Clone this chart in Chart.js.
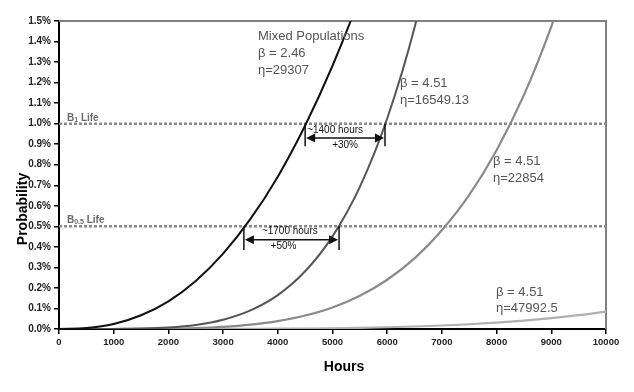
<!DOCTYPE html>
<html><head><meta charset="utf-8">
<script src="https://cdn.jsdelivr.net/npm/chart.js@4/dist/chart.umd.min.js"></script>
<style>html,body{margin:0;padding:0;background:#fff}#wrap{width:634px;height:392px}</style>
</head><body><div id="wrap"><canvas id="c" width="634" height="392"></canvas></div>
<script>
// ---- data (probability in %) ----
const hours = [0,500,1000,1500,2000,2500,3000,3500,4000,4500,5000,5500,6000,6500,7000,7500,8000,8500,9000,9500,10000];
const mixedPop   = [0,0.0045,0.0246,0.067,0.135,0.234,0.367,0.536,0.742,0.991,1.282,1.618,2.0,null,null,null,null,null,null,null,null];
const eta16549   = [0,0,0.0003,0.002,0.0073,0.0199,0.0452,0.0906,0.165,0.281,0.451,0.692,1.025,1.468,2.05,null,null,null,null,null,null];
const eta22854   = [0,0,0.0001,0.0005,0.0017,0.0046,0.0105,0.0211,0.0386,0.0656,0.105,0.162,0.240,0.344,0.481,0.653,0.871,1.14,1.473,1.87,null];
const eta47992   = [0,0,0,0,0.0001,0.0002,0.0004,0.0008,0.0014,0.0023,0.0037,0.0057,0.0085,0.0122,0.017,0.0232,0.031,0.0407,0.0527,0.0672,0.0847];
const bLifeLevels = [1.0, 0.5];
const bLifeNames = [["B","1"],["B","0.5"]];
const xTicks = [0,1000,2000,3000,4000,5000,6000,7000,8000,9000,10000];
// arrows: [startHours, endHours, arrowY %, tickTop %, tickBottom %]
const gapArrows = [[4500,5960,0.93,1.0,0.89],[3380,5120,0.435,0.5,0.385]];
const gapLabels = [["~1400 hours","+30%"],["~1700 hours","+50%"]];

const toPts = arr => hours.map((h,i)=>({x:h,y:arr[i]})).filter(p=>p.y!==null);

const curveDs = (label, arr, color, w, order) => ({
  label, data: toPts(arr), borderColor: color, borderWidth: w, pointRadius: 0,
  cubicInterpolationMode: 'monotone', fill: false, order
});
const refDs = (lvl) => ({
  label: 'ref'+lvl, data: [{x:0,y:lvl},{x:10000,y:lvl}], borderColor:'#8a8a8a',
  borderWidth: 2.5, borderDash:[3,2], pointRadius:0, fill:false, order: 10
});

const FONT = '"Liberation Sans", Arial, sans-serif';

const overlay = {
  id:'overlay',
  beforeDatasetsDraw(chart){
    const {ctx, chartArea:a} = chart;
    ctx.save();
    ctx.strokeStyle='#808080'; ctx.lineWidth=2;
    ctx.beginPath(); ctx.moveTo(a.left, a.top); ctx.lineTo(a.right, a.top); ctx.lineTo(a.right, a.bottom); ctx.stroke();
    ctx.restore();
  },
  afterDatasetsDraw(chart){
    const {ctx, scales:{x,y}} = chart;
    ctx.save();
    // B life labels
    ctx.fillStyle='#6a6a6a'; ctx.textBaseline='alphabetic'; ctx.textAlign='left';
    bLifeLevels.forEach((lvl,i)=>{
      const py = y.getPixelForValue(lvl) - 3;
      let px = 67;
      ctx.font='bold 10px '+FONT;
      ctx.fillText(bLifeNames[i][0], px, py); px += ctx.measureText(bLifeNames[i][0]).width;
      ctx.font='bold 7px '+FONT;
      ctx.fillText(bLifeNames[i][1], px, py+1); px += ctx.measureText(bLifeNames[i][1]).width;
      ctx.font='bold 10px '+FONT;
      ctx.fillText(' Life', px, py);
    });
    // curve labels
    ctx.fillStyle='#555'; ctx.textBaseline='middle';
    ctx.font='13px '+FONT;
    const lab = [["Mixed Populations",258,36],["β = 2.46",258,53],["η=29307",258,70],
                 ["β = 4.51",400,83],["η=16549.13",400,100],
                 ["β = 4.51",493,161],["η=22854",493,178],
                 ["β = 4.51",496,292],["η=47992.5",496,308]];
    lab.forEach(([t,px,py])=>ctx.fillText(t,px,py));
    // arrows
    ctx.strokeStyle='#111'; ctx.fillStyle='#111'; ctx.lineWidth=1.5;
    gapArrows.forEach((g,i)=>{
      const x1=x.getPixelForValue(g[0]), x2=x.getPixelForValue(g[1]);
      const ay=y.getPixelForValue(g[2]), t1=y.getPixelForValue(g[3]), t2=y.getPixelForValue(g[4]);
      ctx.beginPath();
      ctx.moveTo(x1,t1); ctx.lineTo(x1,t2);
      ctx.moveTo(x2,t1); ctx.lineTo(x2,t2);
      ctx.moveTo(x1+8,ay); ctx.lineTo(x2-8,ay);
      ctx.stroke();
      ctx.beginPath();
      ctx.moveTo(x1+1,ay); ctx.lineTo(x1+10,ay-4.5); ctx.lineTo(x1+10,ay+4.5); ctx.closePath();
      ctx.moveTo(x2-1,ay); ctx.lineTo(x2-10,ay-4.5); ctx.lineTo(x2-10,ay+4.5); ctx.closePath();
      ctx.fill();
      ctx.font='10px '+FONT; ctx.textAlign='left'; ctx.textBaseline='middle';
      ctx.fillText(gapLabels[i][0], x1 + (i ? 18 : 2), ay-8);
      ctx.textAlign='center';
      ctx.fillText(gapLabels[i][1], (x1+x2)/2 - (i?8:0), ay+7);
    });
    // axis titles
    ctx.fillStyle='#000'; ctx.font='bold 14px '+FONT;
    ctx.textAlign='center'; ctx.textBaseline='middle';
    ctx.fillText('Hours', 344, 367);
    ctx.translate(23, 209); ctx.rotate(-Math.PI/2);
    ctx.fillText('Probability', 0, 0);
    ctx.restore();
  }
};

new Chart(document.getElementById('c'), {
  type:'line',
  data:{ datasets:[
    curveDs('Mixed', mixedPop, '#111', 2, 1),
    curveDs('eta16549', eta16549, '#555', 2, 2),
    curveDs('eta22854', eta22854, '#8a8a8a', 2.2, 3),
    curveDs('eta47992', eta47992, '#b0b0b0', 2.2, 4),
    refDs(bLifeLevels[0]), refDs(bLifeLevels[1])
  ]},
  options:{
    responsive:false, animation:false,
    layout:{padding:{left:0,top:21,right:28,bottom:0}},
    plugins:{legend:{display:false}, tooltip:{enabled:false}},
    scales:{
      x:{ type:'linear', min:0, max:10000,
        afterBuildTicks: s => { s.ticks = xTicks.map(v=>({value:v})); },
        afterFit: s => { s.height = 63; },
        grid:{drawOnChartArea:false, drawTicks:true, tickLength:5, color:'#000', lineWidth:1.5},
        border:{color:'#000', width:2},
        ticks:{color:'#222', font:{family:FONT, size:9.5, weight:'bold'}, padding:3, maxRotation:0,
          callback: v => String(v)}
      },
      y:{ min:0, max:1.5,
        afterFit: s => { s.width = 59; },
        grid:{drawOnChartArea:false, drawTicks:true, tickLength:5, color:'#000', lineWidth:1.5},
        border:{color:'#000', width:2},
        ticks:{stepSize:0.1, color:'#222', font:{family:FONT, size:10, weight:'bold'}, padding:3,
          callback: v => v.toFixed(1)+'%'}
      }
    }
  },
  plugins:[overlay]
});
</script></body></html>
